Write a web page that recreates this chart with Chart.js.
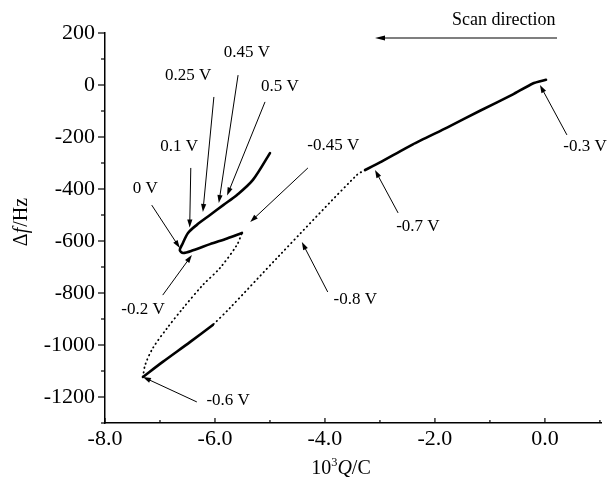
<!DOCTYPE html>
<html>
<head>
<meta charset="utf-8">
<title>Δf vs Q</title>
<script src="https://cdn.jsdelivr.net/npm/chart.js@4/dist/chart.umd.min.js"></script>
<style>
  html, body { margin: 0; padding: 0; background: #fff; }
  canvas { display: block; }
</style>
</head>
<body>
<canvas id="qcm-chart" width="609" height="480"></canvas>
<script>
// 10^3 Q / C  and  Δf / Hz
// -0.3 V -> -0.7 V (solid)
const scanAQ = [0.02, -0.22, -0.58, -1.18, -1.78, -2.40, -3.00, -3.27];
const scanAF = [20, 6, -36, -99, -164, -228, -298, -327];
// -0.7 V -> -0.8 V -> (dotted)
const scanBQ = [-3.27, -3.42, -4.87, -5.73, -6.04];
const scanBF = [-327, -346, -665, -858, -923];
// towards -0.6 V (solid)
const scanCQ = [-6.04, -6.45, -6.95, -7.31];
const scanCF = [-923, -988, -1065, -1123];
// -0.6 V -> -0.45 V (dotted)
const scanDQ = [-7.31, -7.27, -7.13, -6.87, -6.58, -6.22, -5.91, -5.60, -5.51];
const scanDF = [-1123, -1077, -1012, -935, -858, -769, -704, -615, -569];
// -0.45 V -> -0.2 V -> 0 V -> 0.5 V (solid)
const scanEQ = [-5.51, -5.78, -6.09, -6.40, -6.58, -6.64, -6.60, -6.49, -6.33, -6.09, -5.85, -5.60, -5.31, -5.00];
const scanEF = [-569, -590, -612, -636, -646, -635, -615, -569, -538, -500, -462, -423, -365, -262];

const xTicks = [-8, -6, -4, -2, 0];
const yTicks = [200, 0, -200, -400, -600, -800, -1000, -1200];

// potential labels (data position of text centre, arrow tail and head)
const labelText = ['0 V', '0.1 V', '0.25 V', '0.45 V', '0.5 V', '-0.2 V', '-0.45 V', '-0.6 V', '-0.7 V', '-0.8 V', '-0.3 V'];
const labelQ = [-7.27, -6.65, -6.49, -5.42, -4.82, -7.31, -3.85, -5.76, -2.31, -3.45, 0.73];
const labelF = [-400, -235, 35, 123, -4, -865, -231, -1212, -546, -827, -238];
const tailQ = [-7.15, -6.44, -6.02, -5.58, -5.09, -6.95, -4.31, -6.33, -2.67, -3.95, 0.40];
const tailF = [-462, -319, -46, 38, -65, -808, -319, -1219, -492, -796, -192];
const headQ = [-6.64, -6.46, -6.22, -5.93, -5.78, -6.42, -5.36, -7.31, -3.09, -4.42, -0.09];
const headF = [-627, -548, -488, -454, -425, -654, -527, -1123, -327, -604, 0];

const FONT = "'Liberation Serif', 'Times New Roman', serif";

function toPoints(qs, fs) {
    return qs.map((q, i) => ({ x: q, y: fs[i] }));
}

function solid(qs, fs, tension) {
    return {
        data: toPoints(qs, fs),
        showLine: true,
        borderColor: '#000',
        borderWidth: 2.6,
        pointRadius: 0,
        tension: tension,
        borderCapStyle: 'round',
        borderJoinStyle: 'round'
    };
}

function dotted(qs, fs) {
    return {
        data: toPoints(qs, fs),
        showLine: true,
        borderColor: '#000',
        borderWidth: 1.8,
        borderDash: [0.5, 4],
        borderCapStyle: 'round',
        pointRadius: 0,
        tension: 0.3
    };
}

function drawArrow(ctx, x1, y1, x2, y2, len, half) {
    const a = Math.atan2(y2 - y1, x2 - x1);
    ctx.beginPath();
    ctx.moveTo(x1, y1);
    ctx.lineTo(x2 - Math.cos(a) * len * 0.6, y2 - Math.sin(a) * len * 0.6);
    ctx.stroke();
    ctx.beginPath();
    ctx.moveTo(x2, y2);
    ctx.lineTo(x2 - Math.cos(a) * len + Math.sin(a) * half, y2 - Math.sin(a) * len - Math.cos(a) * half);
    ctx.lineTo(x2 - Math.cos(a) * len - Math.sin(a) * half, y2 - Math.sin(a) * len + Math.cos(a) * half);
    ctx.closePath();
    ctx.fill();
}

// draws mixed upright/italic/superscript pieces centred on (0,0)
function drawPieces(ctx, pieces, size) {
    let total = 0;
    const fontOf = p => (p.italic ? 'italic ' : '') + (p.sup ? size * 0.62 : size) + 'px ' + FONT;
    pieces.forEach(p => {
        ctx.font = fontOf(p);
        p.w = ctx.measureText(p.t).width + (p.gap || 0);
        total += p.w;
    });
    let x = -total / 2;
    pieces.forEach(p => {
        ctx.font = fontOf(p);
        ctx.fillText(p.t, x, p.sup ? -size * 0.32 : 0);
        x += p.w;
    });
}

const decorPlugin = {
    id: 'decor',
    afterDraw(chart) {
        const ctx = chart.ctx;
        const xs = chart.scales.x;
        const ys = chart.scales.y;
        const area = chart.chartArea;
        ctx.save();
        ctx.strokeStyle = '#000';
        ctx.fillStyle = '#000';
        ctx.lineWidth = 1.2;

        // tick marks, major and minor
        for (let v = -8; v <= 1; v++) {
            const px = xs.getPixelForValue(v);
            const len = v % 2 === 0 ? 5 : 3;
            ctx.beginPath();
            ctx.moveTo(px, area.bottom);
            ctx.lineTo(px, area.bottom - len);
            ctx.stroke();
        }
        for (let v = -1300; v <= 200; v += 100) {
            const py = ys.getPixelForValue(v);
            const len = v % 200 === 0 ? 7 : 4;
            ctx.beginPath();
            ctx.moveTo(area.left, py);
            ctx.lineTo(area.left - len, py);
            ctx.stroke();
        }

        // annotations
        ctx.lineWidth = 1;
        ctx.textAlign = 'center';
        ctx.textBaseline = 'middle';
        ctx.font = '17px ' + FONT;
        labelText.forEach((t, i) => {
            ctx.fillText(t, xs.getPixelForValue(labelQ[i]), ys.getPixelForValue(labelF[i]));
            drawArrow(ctx,
                xs.getPixelForValue(tailQ[i]), ys.getPixelForValue(tailF[i]),
                xs.getPixelForValue(headQ[i]), ys.getPixelForValue(headF[i]), 8, 2.6);
        });

        ctx.font = '18px ' + FONT;
        ctx.fillText('Scan direction', xs.getPixelForValue(-0.75), 20);
        ctx.lineWidth = 1.2;
        drawArrow(ctx, xs.getPixelForValue(0.22), 38, xs.getPixelForValue(-3.09), 38, 10, 2.6);

        // axis titles
        ctx.textAlign = 'left';
        ctx.save();
        ctx.translate(22, 222);
        ctx.rotate(-Math.PI / 2);
        drawPieces(ctx, [{ t: 'Δ' }, { t: 'f', italic: true, gap: 1 }, { t: '/Hz' }], 20);
        ctx.restore();

        ctx.save();
        ctx.translate(341, 469);
        drawPieces(ctx, [{ t: '10' }, { t: '3', sup: true }, { t: 'Q', italic: true }, { t: '/C' }], 20);
        ctx.restore();

        ctx.restore();
    }
};

new Chart(document.getElementById('qcm-chart'), {
    type: 'scatter',
    data: {
        datasets: [
            solid(scanAQ, scanAF, 0.15),
            dotted(scanBQ, scanBF),
            solid(scanCQ, scanCF, 0.3),
            dotted(scanDQ, scanDF),
            solid(scanEQ, scanEF, 0.3)
        ]
    },
    options: {
        responsive: false,
        animation: false,
        layout: { padding: { top: 33, right: 8, left: 0, bottom: 0 } },
        plugins: {
            legend: { display: false },
            tooltip: { enabled: false }
        },
        scales: {
            x: {
                type: 'linear',
                min: -8,
                max: 1.02,
                afterFit: scale => { scale.height = 57; },
                grid: { display: false, drawTicks: false },
                border: { display: true, color: '#000', width: 1.5 },
                afterBuildTicks: scale => { scale.ticks = xTicks.map(v => ({ value: v })); },
                ticks: {
                    autoSkip: false,
                    maxRotation: 0,
                    padding: 3,
                    color: '#000',
                    font: { family: FONT, size: 22 },
                    callback: v => v.toFixed(1)
                }
            },
            y: {
                type: 'linear',
                min: -1300,
                max: 200,
                afterFit: scale => { scale.width = 105; },
                grid: { display: false, drawTicks: false },
                border: { display: true, color: '#000', width: 1.5 },
                afterBuildTicks: scale => { scale.ticks = yTicks.map(v => ({ value: v })); },
                ticks: {
                    autoSkip: false,
                    padding: 10,
                    color: '#000',
                    font: { family: FONT, size: 22 },
                    callback: v => String(v)
                }
            }
        }
    },
    plugins: [decorPlugin]
});
</script>
</body>
</html>
